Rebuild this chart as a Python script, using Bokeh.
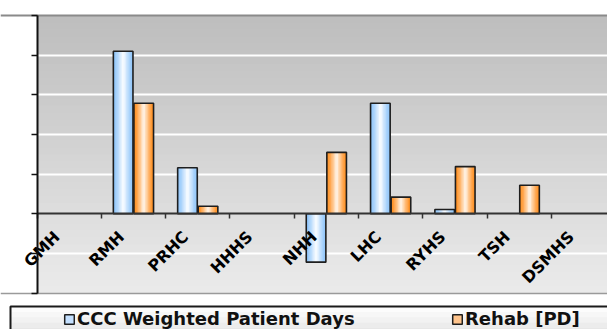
import math
from bokeh.plotting import figure
from bokeh.models import (Range1d, LinearAxis, FixedTicker, Grid, Legend, LegendItem,
                          CustomJSTickFormatter)
from bokeh.core.properties import value
from bokeh.embed import file_html
from bokeh.resources import INLINE

# ---------------- data ----------------
categories = ["GMH", "RMH", "PRHC", "HHHS", "NHH", "LHC", "RYHS", "TSH", "DSMHS"]
ccc_weighted = [0, 4.10, 1.16, 0, -1.22, 2.79, 0.11, 0, 0]
rehab_pd = [0, 2.79, 0.19, 0, 1.55, 0.42, 1.19, 0.72, 0]
y_ticks = [-2, -1, 0, 1, 2, 3, 4, 5]
series_names = ["CCC Weighted Patient Days", "Rehab [PD]"]

# ---------------- geometry ----------------
W, H = 607, 329
X0_PX = 36.5      # canvas x of first category boundary
CAT_PX = 64.3     # pixels per category
Y0_PX = 213.3     # canvas y of zero line
UNIT_PX = 39.65   # pixels per y unit


def px_x(sx):
    return (sx - X0_PX) / CAT_PX


def px_y(sy):
    return (Y0_PX - sy) / UNIT_PX


x_start, x_end = px_x(0), px_x(W)
y_start, y_end = px_y(H), px_y(0)
n_cat = len(categories)
y_lo, y_hi = min(y_ticks), max(y_ticks)


def mix(c1, c2, t):
    a = [int(c1[i:i + 2], 16) for i in (1, 3, 5)]
    b = [int(c2[i:i + 2], 16) for i in (1, 3, 5)]
    return "#%02x%02x%02x" % tuple(round(a[j] + (b[j] - a[j]) * t) for j in range(3))


p = figure(width=W, height=H, x_range=Range1d(x_start, x_end), y_range=Range1d(y_start, y_end),
           x_axis_location=None, y_axis_location=None, toolbar_location=None,
           output_backend="svg", min_border=0, outline_line_color=None,
           background_fill_color="white", border_fill_color="white")
p.center = [r for r in p.center if not isinstance(r, Grid)]

# plot-area background gradient (overlapping bands to avoid seams)
nb = 40
step = (y_hi - y_lo) / nb
bands_b, bands_t, bands_c = [], [], []
for k in range(nb):
    b = y_lo + step * k
    t = min(y_hi, b + step * 1.6)
    bands_b.append(b)
    bands_t.append(t)
    bands_c.append(mix("#ebebeb", "#bdbdbd", (k + 0.5) / nb))
p.quad(left=0, right=n_cat, bottom=bands_b, top=bands_t, fill_color=bands_c,
       line_color=None, level="image")

# grid lines
p.add_layout(Grid(dimension=1, ticker=FixedTicker(ticks=[t for t in y_ticks if t not in (0, y_lo, y_hi)]),
                  grid_line_color="white", grid_line_width=2, bounds=(0, n_cat)))
p.add_layout(Grid(dimension=1, ticker=FixedTicker(ticks=[y_hi]),
                  grid_line_color="#8a8a8a", grid_line_width=2, bounds=(0, n_cat)))
p.add_layout(Grid(dimension=1, ticker=FixedTicker(ticks=[y_lo]),
                  grid_line_color="#9a9a9a", grid_line_width=1.5, bounds=(0, n_cat)))

# bars with horizontal gradient
BAR_W = 0.305
N_STRIP = 14


def draw_series(vals, offset, edge, center):
    L, R, B, T, C = [], [], [], [], []
    oL, oR, oB, oT = [], [], [], []
    for i, v in enumerate(vals):
        if v == 0:
            continue
        c = i + 0.5 + offset
        x0 = c - BAR_W / 2
        for k in range(N_STRIP):
            u = (k + 0.5) / N_STRIP
            f = (1 - abs(2 * u - 1)) ** 1.3
            L.append(x0 + BAR_W * k / N_STRIP)
            R.append(x0 + BAR_W * (k + 1.5) / N_STRIP if k < N_STRIP - 1 else x0 + BAR_W)
            B.append(min(0, v))
            T.append(max(0, v))
            C.append(mix(edge, center, f))
        oL.append(x0)
        oR.append(x0 + BAR_W)
        oB.append(min(0, v))
        oT.append(max(0, v))
    p.quad(left=L, right=R, bottom=B, top=T, fill_color=C, line_color=None)
    p.quad(left=oL, right=oR, bottom=oB, top=oT, fill_color=None,
           line_color="#1e1e1e", line_width=1.6)


draw_series(ccc_weighted, -0.16, "#8cc4fa", "#ffffff")
draw_series(rehab_pd, 0.16, "#ff8c1a", "#fff8f0")

# axes
xaxis = LinearAxis(fixed_location=0, bounds=(0, n_cat),
                   ticker=FixedTicker(ticks=list(range(n_cat + 1))),
                   formatter=CustomJSTickFormatter(code="return ''"),
                   major_tick_out=5, major_tick_in=0, minor_tick_line_color=None,
                   axis_line_color="#333333", axis_line_width=2,
                   major_tick_line_color="#333333", major_tick_line_width=1.5)
p.add_layout(xaxis, "below")
yaxis = LinearAxis(fixed_location=0, bounds=(y_lo, y_hi),
                   ticker=FixedTicker(ticks=y_ticks),
                   formatter=CustomJSTickFormatter(code="return ''"),
                   major_tick_out=6, major_tick_in=0, minor_tick_line_color=None,
                   axis_line_color="#111111", axis_line_width=2,
                   major_tick_line_color="#111111", major_tick_line_width=1.5)
p.add_layout(yaxis, "left")

# category labels
p.text(x=[i + 0.5 - 0.19 for i in range(n_cat)], y=[-0.51] * n_cat, text=categories,
       angle=math.pi / 4, text_align="right", text_baseline="middle",
       text_font=value("DejaVu Sans"), text_font_style="bold", text_font_size="16px",
       text_color="#000000")

# legend box
lb_left, lb_top = px_x(10), px_y(306)
lb_right, lb_bottom = px_x(W + 20), px_y(H + 20)
nlb = 8
lstep = (lb_bottom - lb_top) / nlb
lbb, lbt, lbc = [], [], []
for k in range(nlb):
    t = lb_top + lstep * k
    b = t + lstep * 1.6
    lbt.append(t)
    lbb.append(b)
    lbc.append(mix("#ffffff", "#d4d4d4", (k + 0.5) / nlb))
p.quad(left=lb_left, right=lb_right, bottom=lbb, top=lbt, fill_color=lbc, line_color=None)
p.quad(left=[lb_left], right=[lb_right], bottom=[lb_bottom], top=[lb_top], fill_color=None,
       line_color="#1a1a1a", line_width=2)

# legend proxies (not drawn in the plot, only their legend swatches)
r_blue = p.quad(left=[0], right=[0], top=[0], bottom=[0], fill_color="#c4e0ff",
                line_color="#1e1e1e", line_width=1.5, visible=False)
r_orange = p.quad(left=[0], right=[0], top=[0], bottom=[0], fill_color="#ffc48c",
                  line_color="#1e1e1e", line_width=1.5, visible=False)

legend = Legend(items=[LegendItem(label=series_names[0], renderers=[r_blue]),
                       LegendItem(label=series_names[1], renderers=[r_orange])],
                orientation="horizontal", location=(63, 0), padding=0, margin=0,
                spacing=74, glyph_width=12, glyph_height=12, label_standoff=2,
                label_width=300, label_height=20,
                label_text_font="DejaVu Sans", label_text_font_style="bold",
                label_text_font_size="18px", label_text_color="#111111",
                border_line_color=None, background_fill_alpha=0,
                inactive_fill_alpha=0)
p.add_layout(legend)

open("out.html", "w").write(file_html(p, INLINE))
